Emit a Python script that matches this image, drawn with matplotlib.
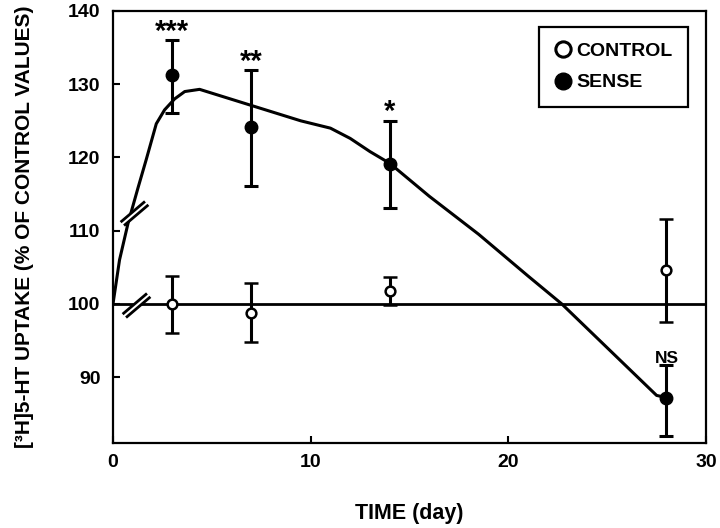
import numpy as np
import matplotlib
import matplotlib.pyplot as plt
from matplotlib.lines import Line2D
from matplotlib.path import Path

matplotlib.use('agg')

plt.rcParams['font.family'] = ['Liberation Sans', 'DejaVu Sans']
plt.rcParams['font.weight'] = 'bold'

# time points (days) and group means / error limits
days = [3, 7, 14, 28]
control_mean = [100.0, 98.8, 101.8, 104.6]
control_lo = [96.0, 94.8, 99.8, 97.5]
control_hi = [103.8, 102.8, 103.7, 111.6]
sense_mean = [131.2, 124.1, 119.1, 87.2]
sense_lo = [126.1, 116.1, 113.1, 82.0]
sense_hi = [136.1, 132.0, 125.0, 91.6]

# fitted sense curve
curve_x = [0, 0.33, 0.76, 1.26, 1.68, 2.19, 2.61, 3.12, 3.63, 4.38, 7, 9.5,
           11, 12, 13, 14, 16, 18.5, 21, 22.7, 27.5, 28]
curve_y = [100, 106, 111, 115.8, 119.7, 124.6, 126.5, 128, 129, 129.3, 127.1, 125,
           124, 122.6, 120.8, 119.2, 114.7, 109.5, 103.8, 100, 87.5, 87.2]

# control reference line
ref_x = [0, 30]
ref_y = [100, 100]

# axis-break marks on the lines
break_x = [1.06, 1.18]
break_y = [112.4, 99.8]

# significance labels (baseline positions)
sig_labels = ['***', '**', '*', 'NS']
sig_y = [136.0, 131.9, 125.1, 91.9]

fig = plt.figure(figsize=(7.2, 5.28), dpi=100)
ax = fig.add_axes([113 / 720, 1 - 443 / 528, (706 - 113) / 720, (443 - 11) / 528])

ax.plot(ref_x, ref_y, color='black', lw=2.0, zorder=2)
ax.plot(curve_x, curve_y, color='black', lw=2.2, zorder=2)

# break marks: white gap then two slashes
d = 0.85
off = 0.14
gap_path = Path([(-1, -d), (1, d)], [Path.MOVETO, Path.LINETO])
slash_path = Path([(-1 - off, -d + off), (1 - off, d + off),
                   (-1 + off, -d - off), (1 + off, d - off)],
                  [Path.MOVETO, Path.LINETO, Path.MOVETO, Path.LINETO])
ax.plot(break_x, break_y, ls='none', marker=gap_path, markersize=18,
        mec='white', mew=4.5, zorder=3)
ax.plot(break_x, break_y, ls='none', marker=slash_path, markersize=20,
        mec='black', mew=2.0, zorder=4)

c_err = [np.subtract(control_mean, control_lo), np.subtract(control_hi, control_mean)]
s_err = [np.subtract(sense_mean, sense_lo), np.subtract(sense_hi, sense_mean)]

ax.errorbar(days, control_mean, yerr=c_err, fmt='o', color='black', mfc='white',
            mec='black', ms=7, mew=1.8, ecolor='black', elinewidth=2.2,
            capsize=5, capthick=2.2, zorder=5)
ax.errorbar(days, sense_mean, yerr=s_err, fmt='o', color='black', mfc='black',
            mec='black', ms=9, ecolor='black', elinewidth=2.2,
            capsize=5, capthick=2.2, zorder=5)

for d_, lab, yy in zip(days, sig_labels, sig_y):
    fs = 12.5 if lab == 'NS' else 21
    ax.text(d_, yy, lab, ha='center', va='baseline', fontsize=fs, fontweight='bold')

ax.set_xlim(0, 30)
ax.set_ylim(81, 140)
ax.set_xticks([0, 10, 20, 30])
ax.set_yticks([90, 100, 110, 120, 130, 140])
ax.tick_params(direction='in', length=5, width=1.5, labelsize=14, pad=8)
ax.tick_params(axis='y', pad=9)
for s in ax.spines.values():
    s.set_linewidth(1.6)

ax.set_xlabel('TIME (day)', fontsize=15.5, fontweight='bold')
ax.xaxis.set_label_coords(0.5, -0.138)
ax.set_ylabel('[³H]5-HT UPTAKE (% OF CONTROL VALUES)', fontsize=15,
              fontweight='bold')
ax.yaxis.set_label_coords(-0.133, 0.5)

handles = [Line2D([], [], ls='none', marker='o', mfc='white', mec='black', ms=11, mew=2.2),
           Line2D([], [], ls='none', marker='o', mfc='black', mec='black', ms=12)]
leg = ax.legend(handles, ['CONTROL', 'SENSE'], loc='upper right',
                bbox_to_anchor=(0.970, 0.963), borderaxespad=0, fancybox=False,
                framealpha=1, edgecolor='black', fontsize=14, handlelength=0.8,
                handletextpad=0.3, labelspacing=0.7, borderpad=0.8)
leg.get_frame().set_linewidth(1.6)

plt.savefig('out.png', dpi=100)
